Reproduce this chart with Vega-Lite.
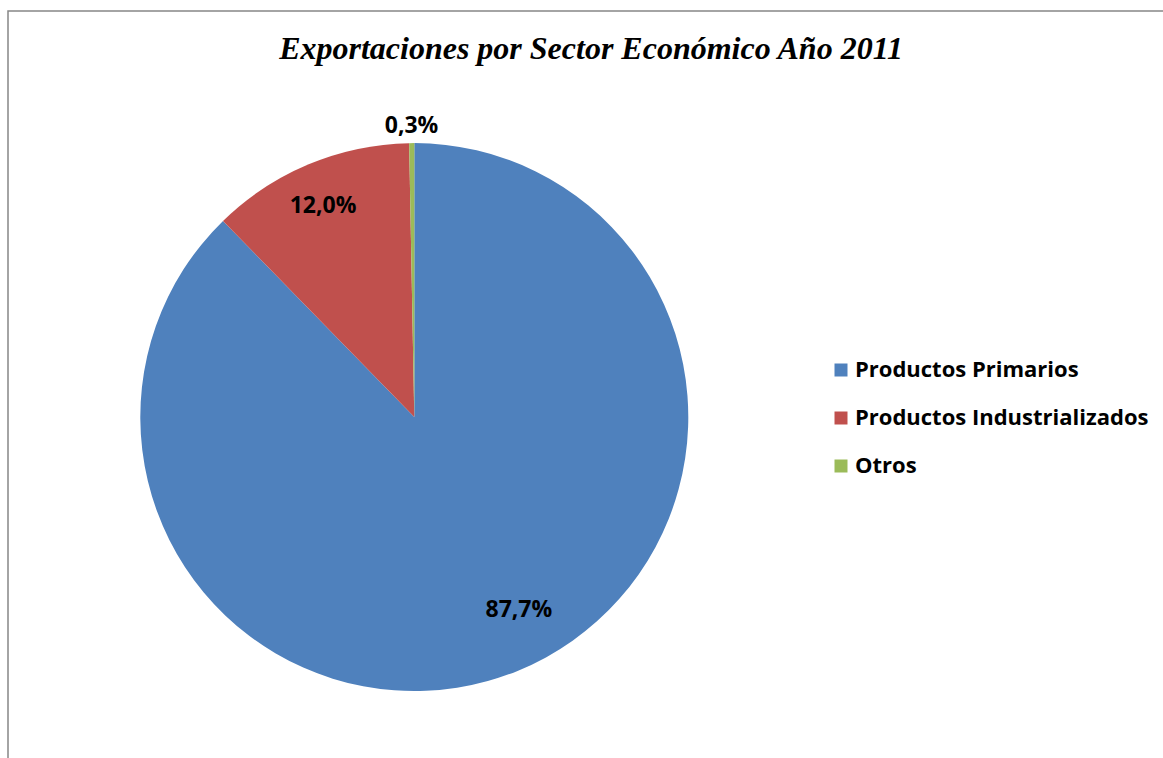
{
  "$schema": "https://vega.github.io/schema/vega-lite/v6.json",
  "width": 1163,
  "height": 758,
  "autosize": {"type": "fit", "contains": "padding"},
  "padding": {"left": 8, "top": 11, "right": -40, "bottom": -40},
  "background": "white",
  "view": {"stroke": "#878787", "strokeWidth": 1.5, "fill": "white"},
  "title": {
    "text": "Exportaciones por Sector Económico Año 2011",
    "font": "Liberation Serif",
    "fontSize": 32,
    "fontWeight": "bold",
    "fontStyle": "italic",
    "color": "black",
    "anchor": "middle",
    "frame": "group",
    "orient": "none",
    "baseline": "alphabetic",
    "offset": 0,
    "dy": 48,
    "dx": 583
  },
  "data": {
    "values": [
      {"sector": "Productos Primarios", "valor": 0.877, "orden": 1},
      {"sector": "Productos Industrializados", "valor": 0.120, "orden": 2},
      {"sector": "Otros", "valor": 0.003, "orden": 3}
    ]
  },
  "encoding": {
    "theta": {"field": "valor", "type": "quantitative", "stack": true},
    "order": {"field": "orden", "type": "quantitative"}
  },
  "layer": [
    {
      "mark": {"type": "arc", "radius": 274, "x": {"expr": "width * 0.34"}, "y": {"expr": "height * 0.516"}},
      "encoding": {
        "color": {
          "field": "sector",
          "type": "nominal",
          "sort": ["Productos Primarios", "Productos Industrializados", "Otros"],
          "scale": {
            "domain": ["Productos Primarios", "Productos Industrializados", "Otros"],
            "range": ["#4F81BD", "#C0504D", "#9BBB59"]
          },
          "legend": {
            "title": null,
            "orient": "none",
            "legendX": 822,
            "legendY": 348,
            "padding": 0,
            "symbolType": "square",
            "symbolSize": 169,
            "symbolStrokeWidth": 0,
            "labelFont": "Open Sans",
            "labelFontWeight": "bold",
            "labelFontSize": 22,
            "labelColor": "black",
            "labelOffset": 3,
            "labelLimit": 400,
            "rowPadding": 26
          }
        }
      }
    },
    {
      "mark": {"type": "text", "radius": 219, "dx": 22, "dy": -10, "x": {"expr": "width * 0.34"}, "y": {"expr": "height * 0.516"}, "font": "Open Sans", "fontWeight": "bold", "fontSize": 23, "color": "black"},
      "encoding": {
        "text": {"condition": {"test": "datum.sector === 'Productos Primarios'", "field": "valor", "format": ".1%"}, "value": ""}
      }
    },
    {
      "mark": {"type": "text", "radius": 229, "dx": -3, "x": {"expr": "width * 0.34"}, "y": {"expr": "height * 0.516"}, "font": "Open Sans", "fontWeight": "bold", "fontSize": 23, "color": "black"},
      "encoding": {
        "text": {"condition": {"test": "datum.sector === 'Productos Industrializados'", "field": "valor", "format": ".1%"}, "value": ""}
      }
    },
    {
      "mark": {"type": "text", "radius": 291, "x": {"expr": "width * 0.34"}, "y": {"expr": "height * 0.516"}, "font": "Open Sans", "fontWeight": "bold", "fontSize": 23, "color": "black"},
      "encoding": {
        "text": {"condition": {"test": "datum.sector === 'Otros'", "field": "valor", "format": ".1%"}, "value": ""}
      }
    }
  ],
  "config": {
    "locale": {"number": {"decimal": ",", "thousands": ".", "grouping": [3], "currency": ["", " €"]}},
    "view": {"stroke": "#878787", "strokeWidth": 1.5}
  }
}
